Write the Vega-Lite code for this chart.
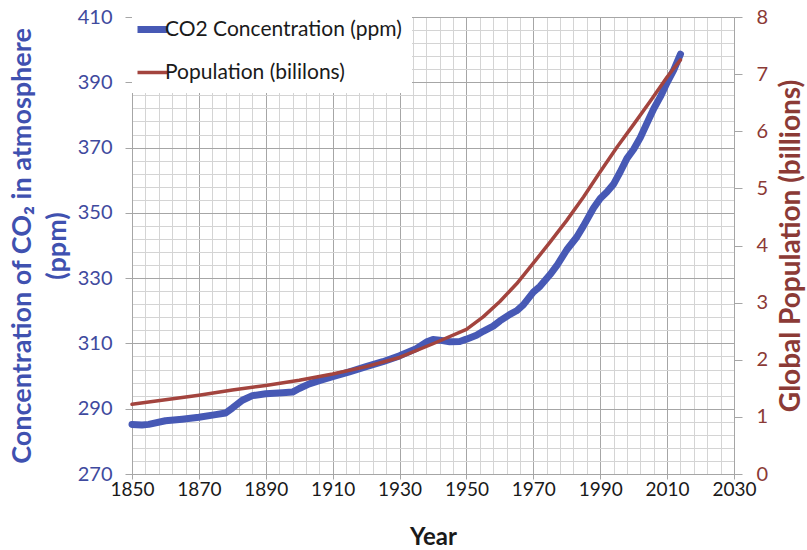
{
  "$schema": "https://vega.github.io/schema/vega-lite/v6.json",
  "width": 602,
  "height": 457,
  "autosize": {"type": "none"},
  "padding": {"left": 132, "top": 17, "right": 73, "bottom": 76},
  "background": "white",
  "config": {
    "font": "Lato",
    "view": {"stroke": null},
    "axis": {"labelFont": "Lato", "titleFont": "Lato"}
  },
  "encoding": {
    "x": {
      "field": "year", "type": "quantitative",
      "scale": {"domain": [1850, 2030], "nice": false, "zero": false},
      "axis": {
        "values": [1850,1854,1858,1862,1866,1870,1874,1878,1882,1886,1890,1894,1898,1902,1906,1910,1914,1918,1922,1926,1930,1934,1938,1942,1946,1950,1954,1958,1962,1966,1970,1974,1978,1982,1986,1990,1994,1998,2002,2006,2010,2014,2018,2022,2026,2030],
        "labelExpr": "datum.value % 20 == 10 ? datum.label : ''",
        "format": "d",
        "grid": true,
        "gridColor": {"condition": {"test": "datum.value % 20 == 10", "value": "#a6a6a6"}, "value": "#d4d4d4"},
        "gridWidth": 1,
        "tickOpacity": {"condition": {"test": "datum.value % 20 == 10", "value": 1}, "value": 0},
        "tickColor": "#a6a6a6",
        "tickSize": 5,
        "domainColor": "#a6a6a6",
        "labelFontSize": 19,
        "labelColor": "#1a1a1a",
        "labelPadding": 1,
        "labelFlush": false,
        "labelOverlap": false,
        "title": "Year",
        "titleFontSize": 24,
        "titleFontWeight": "bold",
        "titleColor": "#1a1a1a",
        "titlePadding": 26
      }
    }
  },
  "layer": [
    {
      "data": {"values": [
        {"year": 1850, "value": 285.2, "series": "CO2 Concentration (ppm)"},
        {"year": 1853, "value": 285.0, "series": "CO2 Concentration (ppm)"},
        {"year": 1855, "value": 285.2, "series": "CO2 Concentration (ppm)"},
        {"year": 1860, "value": 286.3, "series": "CO2 Concentration (ppm)"},
        {"year": 1865, "value": 286.8, "series": "CO2 Concentration (ppm)"},
        {"year": 1870, "value": 287.4, "series": "CO2 Concentration (ppm)"},
        {"year": 1875, "value": 288.2, "series": "CO2 Concentration (ppm)"},
        {"year": 1878, "value": 288.7, "series": "CO2 Concentration (ppm)"},
        {"year": 1880, "value": 290.2, "series": "CO2 Concentration (ppm)"},
        {"year": 1883, "value": 292.6, "series": "CO2 Concentration (ppm)"},
        {"year": 1886, "value": 294.0, "series": "CO2 Concentration (ppm)"},
        {"year": 1890, "value": 294.6, "series": "CO2 Concentration (ppm)"},
        {"year": 1895, "value": 294.9, "series": "CO2 Concentration (ppm)"},
        {"year": 1898, "value": 295.1, "series": "CO2 Concentration (ppm)"},
        {"year": 1900, "value": 296.2, "series": "CO2 Concentration (ppm)"},
        {"year": 1903, "value": 297.6, "series": "CO2 Concentration (ppm)"},
        {"year": 1906, "value": 298.6, "series": "CO2 Concentration (ppm)"},
        {"year": 1910, "value": 299.8, "series": "CO2 Concentration (ppm)"},
        {"year": 1915, "value": 301.3, "series": "CO2 Concentration (ppm)"},
        {"year": 1920, "value": 302.9, "series": "CO2 Concentration (ppm)"},
        {"year": 1925, "value": 304.4, "series": "CO2 Concentration (ppm)"},
        {"year": 1930, "value": 306.2, "series": "CO2 Concentration (ppm)"},
        {"year": 1935, "value": 308.4, "series": "CO2 Concentration (ppm)"},
        {"year": 1938, "value": 310.4, "series": "CO2 Concentration (ppm)"},
        {"year": 1940, "value": 311.2, "series": "CO2 Concentration (ppm)"},
        {"year": 1942, "value": 311.0, "series": "CO2 Concentration (ppm)"},
        {"year": 1945, "value": 310.5, "series": "CO2 Concentration (ppm)"},
        {"year": 1948, "value": 310.6, "series": "CO2 Concentration (ppm)"},
        {"year": 1950, "value": 311.3, "series": "CO2 Concentration (ppm)"},
        {"year": 1953, "value": 312.5, "series": "CO2 Concentration (ppm)"},
        {"year": 1955, "value": 313.7, "series": "CO2 Concentration (ppm)"},
        {"year": 1958, "value": 315.3, "series": "CO2 Concentration (ppm)"},
        {"year": 1960, "value": 316.9, "series": "CO2 Concentration (ppm)"},
        {"year": 1963, "value": 318.9, "series": "CO2 Concentration (ppm)"},
        {"year": 1965, "value": 320.0, "series": "CO2 Concentration (ppm)"},
        {"year": 1967, "value": 321.8, "series": "CO2 Concentration (ppm)"},
        {"year": 1970, "value": 325.7, "series": "CO2 Concentration (ppm)"},
        {"year": 1972, "value": 327.5, "series": "CO2 Concentration (ppm)"},
        {"year": 1975, "value": 331.1, "series": "CO2 Concentration (ppm)"},
        {"year": 1977, "value": 333.8, "series": "CO2 Concentration (ppm)"},
        {"year": 1980, "value": 338.7, "series": "CO2 Concentration (ppm)"},
        {"year": 1983, "value": 342.6, "series": "CO2 Concentration (ppm)"},
        {"year": 1985, "value": 346.0, "series": "CO2 Concentration (ppm)"},
        {"year": 1988, "value": 351.5, "series": "CO2 Concentration (ppm)"},
        {"year": 1990, "value": 354.4, "series": "CO2 Concentration (ppm)"},
        {"year": 1992, "value": 356.4, "series": "CO2 Concentration (ppm)"},
        {"year": 1994, "value": 358.8, "series": "CO2 Concentration (ppm)"},
        {"year": 1996, "value": 362.6, "series": "CO2 Concentration (ppm)"},
        {"year": 1998, "value": 366.7, "series": "CO2 Concentration (ppm)"},
        {"year": 2000, "value": 369.5, "series": "CO2 Concentration (ppm)"},
        {"year": 2002, "value": 373.1, "series": "CO2 Concentration (ppm)"},
        {"year": 2004, "value": 377.5, "series": "CO2 Concentration (ppm)"},
        {"year": 2006, "value": 381.9, "series": "CO2 Concentration (ppm)"},
        {"year": 2008, "value": 385.6, "series": "CO2 Concentration (ppm)"},
        {"year": 2010, "value": 389.9, "series": "CO2 Concentration (ppm)"},
        {"year": 2012, "value": 393.8, "series": "CO2 Concentration (ppm)"},
        {"year": 2014, "value": 398.6, "series": "CO2 Concentration (ppm)"}
      ]},
      "mark": {"type": "line", "strokeWidth": 7, "strokeCap": "round", "strokeJoin": "round"},
      "encoding": {
        "y": {
          "field": "value", "type": "quantitative",
          "scale": {"domain": [270, 410], "nice": false, "zero": false},
          "axis": {
            "orient": "left",
            "values": [270,274,278,282,286,290,294,298,302,306,310,314,318,322,326,330,334,338,342,346,350,354,358,362,366,370,374,378,382,386,390,394,398,402,406,410],
            "labelExpr": "datum.value % 20 == 10 ? datum.label : ''",
            "grid": true,
            "gridColor": {"condition": {"test": "datum.value % 20 == 10", "value": "#a6a6a6"}, "value": "#d4d4d4"},
            "tickOpacity": {"condition": {"test": "datum.value % 20 == 10", "value": 1}, "value": 0},
            "tickColor": "#a6a6a6",
            "tickSize": 7,
            "domainColor": "#a6a6a6",
            "labelFontSize": 20,
            "labelColor": "#3f4a9e",
            "labelPadding": 13,
            "labelOverlap": false,
            "labelFlush": false,
            "title": ["Concentration of CO₂ in atmosphere", "(ppm)"],
            "titleFontSize": 27,
            "titleFontWeight": "bold",
            "titleColor": "#3f51b0",
            "titleLineHeight": 35,
            "titlePadding": 6
          }
        },
        "color": {
          "field": "series", "type": "nominal",
          "scale": {"domain": ["CO2 Concentration (ppm)", "Population (bililons)"], "range": ["#4759b5", "#a3443e"]},
          "legend": {
            "title": null,
            "orient": "none",
            "legendX": 0,
            "legendY": -8,
            "padding": 10,
            "fillColor": "white",
            "symbolType": "stroke",
            "symbolSize": 900,
            "labelFontSize": 21,
            "labelColor": "#1a1a1a",
            "labelOffset": 2,
            "rowPadding": 17,
            "labelLimit": 400,
            "encode": {"symbols": {"update": {"strokeWidth": {"signal": "datum.value === 'CO2 Concentration (ppm)' ? 7 : 3.5"}}}}
          }
        }
      }
    },
    {
      "data": {"values": [
        {"year": 1850, "value": 1.22, "series": "Population (bililons)"},
        {"year": 1860, "value": 1.30, "series": "Population (bililons)"},
        {"year": 1870, "value": 1.38, "series": "Population (bililons)"},
        {"year": 1880, "value": 1.47, "series": "Population (bililons)"},
        {"year": 1890, "value": 1.55, "series": "Population (bililons)"},
        {"year": 1900, "value": 1.64, "series": "Population (bililons)"},
        {"year": 1910, "value": 1.75, "series": "Population (bililons)"},
        {"year": 1920, "value": 1.88, "series": "Population (bililons)"},
        {"year": 1930, "value": 2.04, "series": "Population (bililons)"},
        {"year": 1940, "value": 2.28, "series": "Population (bililons)"},
        {"year": 1950, "value": 2.53, "series": "Population (bililons)"},
        {"year": 1955, "value": 2.75, "series": "Population (bililons)"},
        {"year": 1960, "value": 3.02, "series": "Population (bililons)"},
        {"year": 1965, "value": 3.33, "series": "Population (bililons)"},
        {"year": 1970, "value": 3.69, "series": "Population (bililons)"},
        {"year": 1975, "value": 4.06, "series": "Population (bililons)"},
        {"year": 1980, "value": 4.44, "series": "Population (bililons)"},
        {"year": 1985, "value": 4.85, "series": "Population (bililons)"},
        {"year": 1990, "value": 5.29, "series": "Population (bililons)"},
        {"year": 1995, "value": 5.72, "series": "Population (bililons)"},
        {"year": 2000, "value": 6.12, "series": "Population (bililons)"},
        {"year": 2005, "value": 6.53, "series": "Population (bililons)"},
        {"year": 2010, "value": 6.95, "series": "Population (bililons)"},
        {"year": 2014, "value": 7.25, "series": "Population (bililons)"}
      ]},
      "mark": {"type": "line", "strokeWidth": 3.5, "strokeCap": "round", "strokeJoin": "round"},
      "encoding": {
        "y": {
          "field": "value", "type": "quantitative",
          "scale": {"domain": [0, 8], "nice": false},
          "axis": {
            "orient": "right",
            "values": [0,1,2,3,4,5,6,7,8],
            "grid": false,
            "tickColor": "#a6a6a6",
            "tickSize": 8,
            "domainColor": "#a6a6a6",
            "labelFontSize": 20,
            "labelColor": "#8b3a36",
            "labelPadding": 14,
            "labelOverlap": false,
            "labelFlush": false,
            "title": "Global Population (billions)",
            "titleAngle": 270,
            "titleBaseline": "top",
            "titleFontSize": 28,
            "titleFontWeight": "bold",
            "titleColor": "#8b3a36",
            "titlePadding": 10
          }
        },
        "color": {"field": "series", "type": "nominal"}
      }
    }
  ],
  "resolve": {"scale": {"y": "independent"}}
}
